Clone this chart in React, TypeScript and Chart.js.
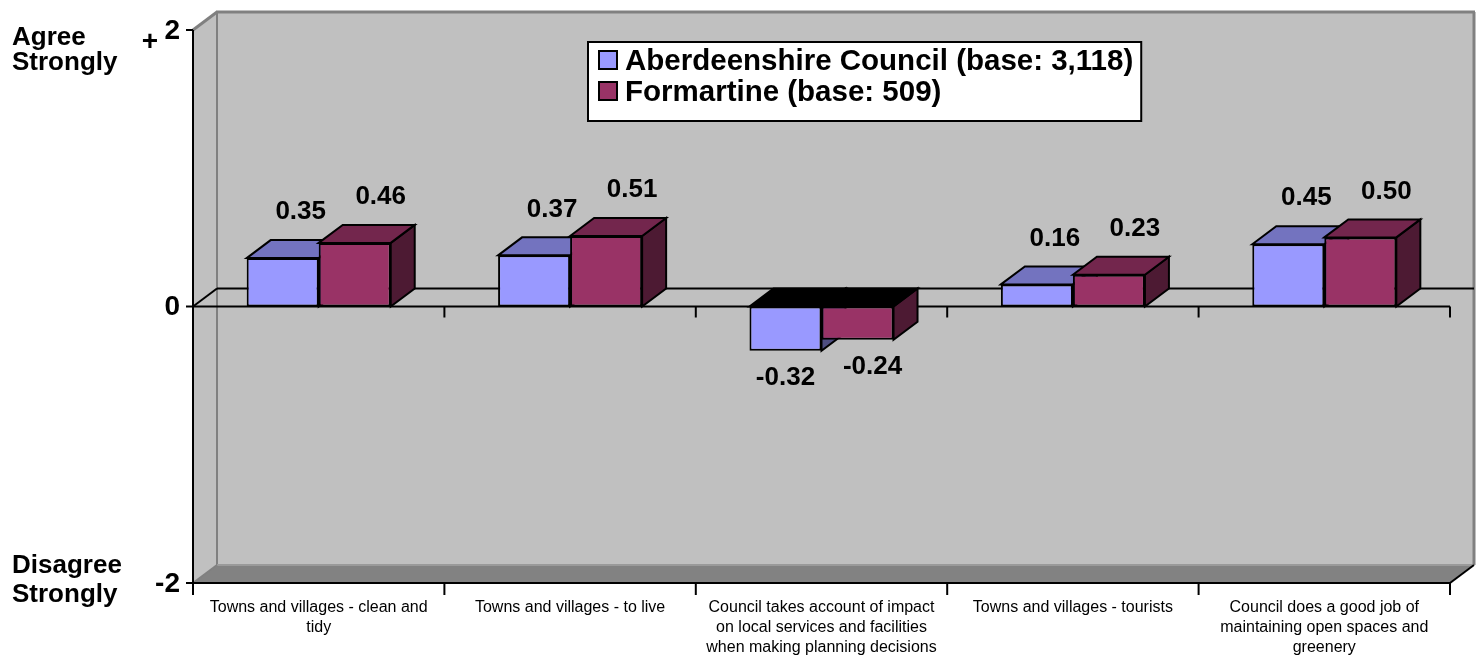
import React, { useEffect, useRef } from "react";
import { Chart, registerables } from "chart.js";

Chart.register(...registerables);

// ---------- data ----------
const categories: string[][] = [
  ["Towns and villages - clean and", "tidy"],
  ["Towns and villages - to live"],
  ["Council takes account of impact", "on local services and facilities", "when making planning decisions"],
  ["Towns and villages - tourists"],
  ["Council does a good job of", "maintaining open spaces and", "greenery"],
];
const aberdeenshire = [0.35, 0.37, -0.32, 0.16, 0.45];
const formartine = [0.46, 0.51, -0.24, 0.23, 0.5];
const seriesNames = ["Aberdeenshire Council (base: 3,118)", "Formartine (base: 509)"];
const yTickValues = [2, 0, -2];
const yTickLabels = ["2", "0", "-2"];
const yMin = -2;
const yMax = 2;

// ---------- styles ----------
const FONT = "'Liberation Sans', Arial, Helvetica, sans-serif";
const frontColors = ["#9999FF", "#993366"];
const topColors = ["#7373BF", "#73264D"];
const sideColors = ["#4D4D80", "#4D1A33"];
const DX = 24;
const DY = -18;

function poly(ctx: CanvasRenderingContext2D, pts: number[][], fill?: string, stroke?: string, lw = 2) {
  ctx.beginPath();
  ctx.moveTo(pts[0][0], pts[0][1]);
  for (let i = 1; i < pts.length; i++) ctx.lineTo(pts[i][0], pts[i][1]);
  ctx.closePath();
  if (fill) {
    ctx.fillStyle = fill;
    ctx.fill();
  }
  if (stroke) {
    ctx.strokeStyle = stroke;
    ctx.lineWidth = lw;
    ctx.lineJoin = "miter";
    ctx.stroke();
  }
}

function line(ctx: CanvasRenderingContext2D, x1: number, y1: number, x2: number, y2: number, color: string, lw = 2) {
  ctx.beginPath();
  ctx.moveTo(x1, y1);
  ctx.lineTo(x2, y2);
  ctx.strokeStyle = color;
  ctx.lineWidth = lw;
  ctx.lineCap = "butt";
  ctx.stroke();
}

const threeD = {
  id: "threeD",
  beforeDatasetsDraw(chart: any) {
    const { ctx, chartArea: a, scales } = chart;
    const x = scales.x;
    const y = scales.y;
    const L = a.left;
    const R = a.right;
    const T = y.getPixelForValue(yMax);
    const B = y.getPixelForValue(yMin);
    const Z = y.getPixelForValue(0);
    ctx.save();
    // back wall
    poly(ctx, [[L + DX, T + DY], [R + DX, T + DY], [R + DX, B + DY], [L + DX, B + DY]], "#C0C0C0");
    // left wall
    poly(ctx, [[L, T], [L + DX, T + DY], [L + DX, B + DY], [L, B]], "#C0C0C0");
    // floor
    poly(ctx, [[L, B], [L + DX, B + DY], [R + DX, B + DY], [R, B]], "#828282");
    const edge = "#808080";
    line(ctx, L, T, L + DX, T + DY, edge, 3);
    line(ctx, L + DX - 1, T + DY, R + DX + 1, T + DY, edge, 3);
    line(ctx, R + DX, T + DY, R + DX, B + DY, edge, 3);
    line(ctx, L + DX, T + DY, L + DX, B + DY, edge, 2);
    line(ctx, L + DX, B + DY, R + DX, B + DY, "#9A9A9A", 2);
    line(ctx, L, B, L + DX, B + DY, edge, 2);
    // floor front/right edges
    line(ctx, L, B, R, B, "#000", 2);
    line(ctx, R, B, R + DX, B + DY, "#000", 2);
    // zero plane lines
    line(ctx, L + DX, Z + DY, R + DX, Z + DY, "#000", 2);
    line(ctx, L, Z, L + DX, Z + DY, "#000", 2);
    line(ctx, L, Z, R, Z, "#000", 2);
    // y axis
    line(ctx, L, T, L, B, "#000", 2);
    yTickValues.forEach((v) => {
      const py = y.getPixelForValue(v);
      line(ctx, L - 7, py, L, py, "#000", 2);
    });
    // x ticks at category boundaries
    const n = categories.length;
    const half = (x.getPixelForValue(1) - x.getPixelForValue(0)) / 2;
    for (let i = 0; i <= n; i++) {
      const bx = i < n ? x.getPixelForValue(i) - half : x.getPixelForValue(n - 1) + half;
      line(ctx, bx, Z, bx, Z + 11, "#000", 2);
      line(ctx, bx, B, bx, B + 12, "#000", 2);
    }
    // bar tops and sides
    chart.data.datasets.forEach((ds: any, di: number) => {
      const meta = chart.getDatasetMeta(di);
      meta.data.forEach((bar: any, j: number) => {
        const v = ds.data[j];
        const left = bar.x - bar.width / 2;
        const right = bar.x + bar.width / 2;
        const top = Math.min(bar.y, bar.base);
        const bottom = Math.max(bar.y, bar.base);
        const topFill = v >= 0 ? topColors[di] : "#000";
        poly(ctx, [[right, top], [right + DX, top + DY], [right + DX, bottom + DY], [right, bottom]], sideColors[di], "#000", 2);
        poly(ctx, [[left, top], [left + DX, top + DY], [right + DX, top + DY], [right, top]], topFill, "#000", 2);
      });
    });
    ctx.restore();
  },
  afterDatasetsDraw(chart: any) {
    const { ctx, chartArea: a, scales } = chart;
    const x = scales.x;
    const y = scales.y;
    const L = a.left;
    const B = y.getPixelForValue(yMin);
    ctx.save();
    ctx.fillStyle = "#000";
    // data labels
    ctx.font = `bold 26px ${FONT}`;
    ctx.textAlign = "center";
    ctx.textBaseline = "middle";
    const posOff = [18, 26];
    const negOff = [0, 15];
    chart.data.datasets.forEach((ds: any, di: number) => {
      const meta = chart.getDatasetMeta(di);
      meta.data.forEach((bar: any, j: number) => {
        const v = ds.data[j];
        const txt = v.toFixed(2);
        if (v >= 0) {
          ctx.fillText(txt, bar.x + posOff[di], bar.y - 46);
        } else {
          ctx.fillText(txt, bar.x + negOff[di], bar.y + 27);
        }
      });
    });
    // category labels
    ctx.font = `16px ${FONT}`;
    ctx.textBaseline = "middle";
    categories.forEach((lines, i) => {
      const cx = x.getPixelForValue(i);
      lines.forEach((t, k) => ctx.fillText(t, cx, B + 25 + k * 20));
    });
    // y tick labels
    ctx.font = `bold 28px ${FONT}`;
    ctx.textAlign = "right";
    yTickValues.forEach((v, k) => {
      const py = y.getPixelForValue(v);
      ctx.fillText(yTickLabels[k], L - 13, py + 1);
    });
    ctx.fillText("+", L - 35, y.getPixelForValue(yMax) + 12);
    // axis end titles
    ctx.font = `bold 26px ${FONT}`;
    ctx.textAlign = "left";
    ctx.textBaseline = "alphabetic";
    ctx.fillText("Agree", 12, 45);
    ctx.fillText("Strongly", 12, 70);
    ctx.fillText("Disagree", 12, 573);
    ctx.fillText("Strongly", 12, 602);
    // legend
    ctx.font = `bold 29.5px ${FONT}`;
    const tw = Math.max(...seriesNames.map((s) => ctx.measureText(s).width));
    const bx = 588;
    const by = 42;
    const bw = 37 + tw + 8;
    const bh = 79;
    ctx.fillStyle = "#fff";
    ctx.fillRect(bx, by, bw, bh);
    ctx.strokeStyle = "#000";
    ctx.lineWidth = 2;
    ctx.strokeRect(bx, by, bw, bh);
    ctx.textBaseline = "middle";
    seriesNames.forEach((s, i) => {
      const ry = by + 18 + i * 31;
      ctx.fillStyle = frontColors[i];
      ctx.fillRect(bx + 11, ry - 9, 18, 18);
      ctx.strokeStyle = "#000";
      ctx.lineWidth = 2;
      ctx.strokeRect(bx + 11, ry - 9, 18, 18);
      ctx.fillStyle = "#000";
      ctx.fillText(s, bx + 37, ry + 2);
    });
    ctx.restore();
  },
};

export default function App() {
  const ref = useRef<HTMLCanvasElement | null>(null);
  useEffect(() => {
    if (!ref.current) return;
    const chart = new Chart(ref.current, {
      type: "bar",
      data: {
        labels: categories.map((c) => c.join(" ")),
        datasets: [
          {
            label: seriesNames[0],
            data: aberdeenshire,
            backgroundColor: frontColors[0],
            borderColor: "#000",
            borderWidth: 2,
            borderSkipped: false,
          },
          {
            label: seriesNames[1],
            data: formartine,
            backgroundColor: frontColors[1],
            borderColor: "#000",
            borderWidth: 2,
            borderSkipped: false,
          },
        ],
      },
      options: {
        responsive: false,
        devicePixelRatio: 1,
        animation: false,
        layout: { padding: { left: 193, right: 32, top: 30, bottom: 73 } },
        datasets: { bar: { categoryPercentage: 0.573, barPercentage: 1 } },
        plugins: { legend: { display: false }, tooltip: { enabled: false } },
        scales: {
          x: { display: false, offset: true, grid: { offset: true } },
          y: { display: false, min: yMin, max: yMax },
        },
      },
      plugins: [threeD],
    } as any);
    return () => chart.destroy();
  }, []);
  return (
    <div style={{ position: "fixed", left: 0, top: 0, width: 1482, height: 656, background: "#fff" }}>
      <canvas ref={ref} width={1482} height={656} style={{ display: "block" }} />
    </div>
  );
}
